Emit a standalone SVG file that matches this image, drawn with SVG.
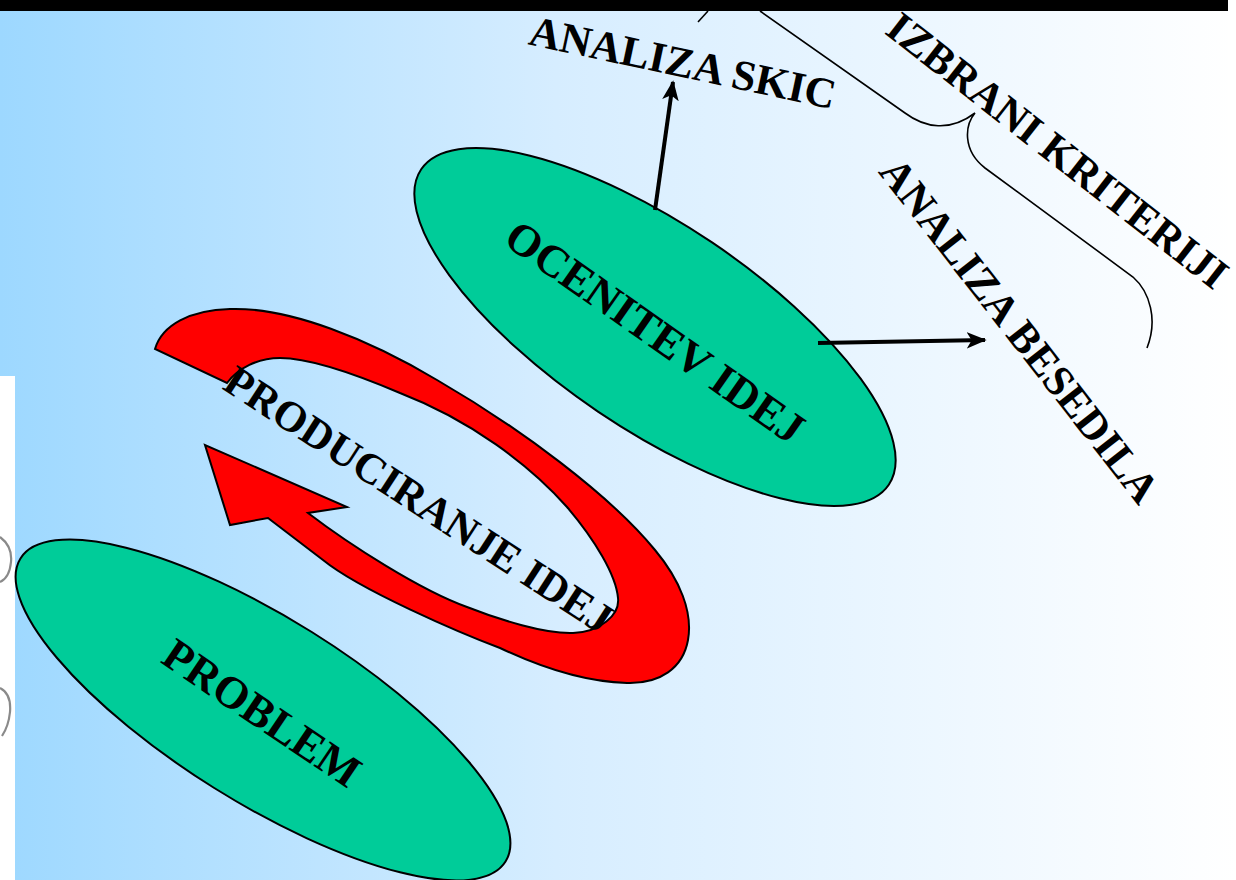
<svg xmlns="http://www.w3.org/2000/svg" width="1236" height="880" viewBox="0 0 1236 880">
<defs>
<linearGradient id="bg" x1="0" y1="0" x2="1236" y2="0" gradientUnits="userSpaceOnUse">
<stop offset="0" stop-color="#9DD8FF"/>
<stop offset="0.45" stop-color="#D6EDFF"/>
<stop offset="1" stop-color="#FFFFFF"/>
</linearGradient>
<marker id="ah" viewBox="0 0 12 10" refX="11" refY="5" markerWidth="5" markerHeight="4.5" orient="auto" markerUnits="strokeWidth">
<path d="M0,0 L12,5 L0,10 L3,5 Z" fill="#000"/>
</marker>
<style>
.node{fill:#00CC99;stroke:#000;stroke-width:2}
.lbl{font-family:"Liberation Serif","Times New Roman",serif;font-weight:bold;font-size:43px;fill:#000;text-anchor:middle}
.big{font-size:45px}
.conn{stroke:#000;stroke-width:4;fill:none;marker-end:url(#ah)}
.brace{stroke:#000;stroke-width:1.6;fill:none}
</style>
</defs>
<rect x="0" y="0" width="1236" height="880" fill="#FFFFFF"/>
<rect x="0" y="11" width="1228" height="365" fill="url(#bg)"/>
<rect x="15" y="375" width="1221" height="505" fill="url(#bg)"/>
<rect x="0" y="0" width="1228" height="11" fill="#000"/>
<g id="scraps" fill="none" stroke="#8a8a8a" stroke-width="2.2">
<path d="M0,537 C8,543 12,552 11,562 C10,572 7,579 0,582"/>
<path d="M0,688 C8,692 11,700 10,712 C9,722 6,730 2,736"/>
</g>
<g id="arrow">
<path d="M155,349 C162,325 190,310 230,309 C290,307 370,340 437,380 C520,428 610,495 655,550 C680,580 693,612 688,640 C683,668 660,684 627,683 C585,682 540,667 500,648 C460,633 360,590 323,560 L268,518 L230,525 L205,445 L347,507 L308,513 C350,545 420,590 467,607 C500,620 545,634 573,633 C600,632 620,615 618,598 C616,575 595,540 567,507 C530,465 470,420 400,393 C360,376 310,358 280,358 C258,358 238,368 227,383 Z" fill="#FF0000" stroke="#000" stroke-width="2"/>
</g>
<g id="problem">
<ellipse class="node" cx="263" cy="710" rx="286" ry="92" transform="rotate(32 263 710)"/>
<text class="lbl big" transform="translate(262,713) rotate(34)" x="0" y="15">PROBLEM</text>
</g>
<g id="ocenitev">
<ellipse class="node" cx="655" cy="327" rx="282" ry="102" transform="rotate(34 655 327)"/>
<text class="lbl big" transform="translate(655,332) rotate(35)" x="0" y="15">OCENITEV IDEJ</text>
</g>
<g id="produciranje">
<text class="lbl" transform="translate(419,499) rotate(33)" x="0" y="15">PRODUCIRANJE IDEJ</text>
</g>
<g id="analiza-skic">
<text class="lbl" transform="translate(683,62) rotate(12)" x="0" y="15">ANALIZA SKIC</text>
</g>
<g id="izbrani">
<text class="lbl" transform="translate(1058,150) rotate(38)" x="0" y="15">IZBRANI KRITERIJI</text>
</g>
<g id="analiza-besedila">
<text class="lbl" transform="translate(1020,330) rotate(52)" x="0" y="15">ANALIZA BESEDILA</text>
</g>
<g id="connectors">
<path class="conn" d="M655,210 L673,82"/>
<path class="conn" d="M818,343 L985,340"/>
<path class="brace" d="M698,22 L708,11"/>
<path class="brace" d="M760,11 L905,113 C925,128 950,132 975,113 C965,125 962,150 985,168 L1133,277 C1150,292 1158,320 1147,348"/>
</g>
</svg>
